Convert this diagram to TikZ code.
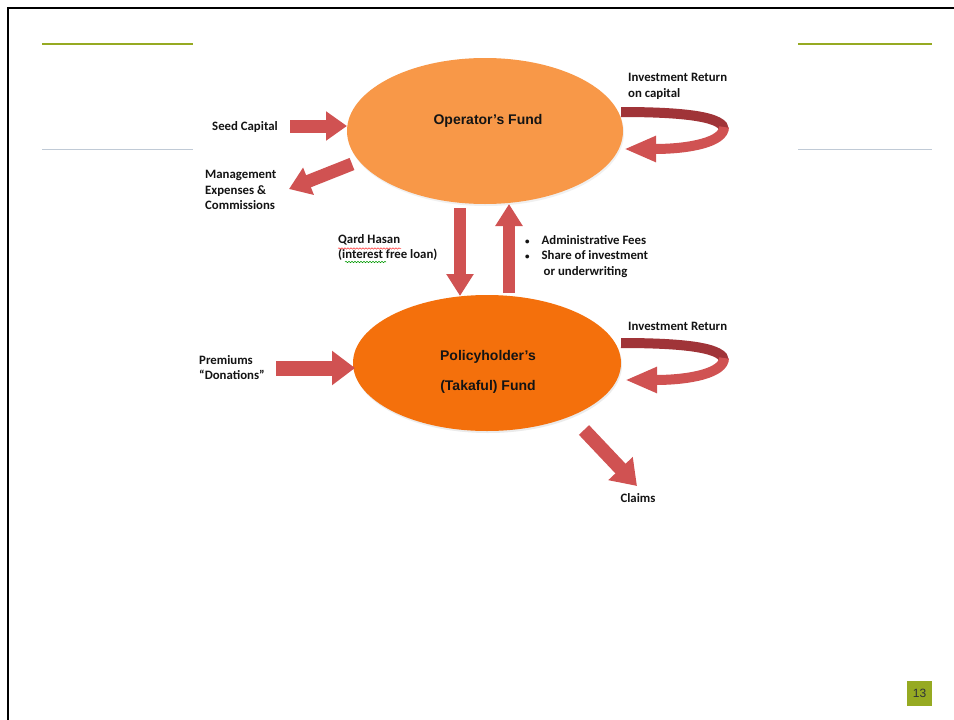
\documentclass[tikz,border=0pt]{standalone}
\usepackage{fontspec}
\setmainfont{Liberation Sans}
\newfontfamily\labfont[Ligatures=TeX]{Carlito}
\usetikzlibrary{arrows.meta,shapes.geometric,decorations.pathmorphing}
\definecolor{opfill}{RGB}{248,152,72}
\definecolor{phfill}{RGB}{244,112,12}
\definecolor{arr}{RGB}{208,82,82}
\definecolor{arrdark}{RGB}{160,52,56}
\definecolor{olive}{RGB}{150,170,34}
\definecolor{rulecol}{RGB}{192,202,214}
\definecolor{txt}{RGB}{20,20,20}
\begin{document}
\begin{tikzpicture}[x=1pt,y=-1pt,
  fund/.style={ellipse,draw=none,inner sep=0pt},
  fundtext/.style={font=\bfseries\fontsize{14}{16}\selectfont,text=txt,inner sep=0pt},
  lab/.style={font=\labfont\bfseries\fontsize{12.8}{15.5}\selectfont,text=txt,inner sep=0pt,align=left},
  fat/.style={draw=arr,line width=13pt,-{Triangle[length=21pt,width=28pt]}},
  fatv/.style={draw=arr,line width=12pt,-{Triangle[length=22pt,width=26pt]}},
  loopdark/.style={draw=arrdark,line width=10pt},
  looplight/.style={draw=arr,line width=10pt,-{Triangle[length=32pt,width=24pt]}},
  squig/.style={decorate,decoration={snake,amplitude=0.7pt,segment length=3pt},line width=0.5pt}
]
\useasboundingbox (0,0) rectangle (954,720);
\fill[white] (0,0) rectangle (954,720);
% slide frame
\draw[line width=2.5pt] (8,730) -- (8,8) -- (970,8);
% rules
\draw[olive,line width=2.5pt] (42,44) -- (193,44);
\draw[olive,line width=2.5pt] (798,44) -- (932,44);
\draw[rulecol,line width=1pt] (42,149) -- (193,149);
\draw[rulecol,line width=1pt] (798,149) -- (932,149);

% shadows
\fill[black!6] (486,133) ellipse [x radius=138pt,y radius=73pt];
\fill[black!8] (488,365) ellipse [x radius=134pt,y radius=68pt];
% funds
\node[fund,fill=opfill,minimum width=276pt,minimum height=146pt] (op) at (485,131) {};
\node[fundtext] (optext) at (488,121) {Operator's Fund};
\node[fund,fill=phfill,minimum width=268pt,minimum height=136pt] (ph) at (487,363) {};
\node[fundtext] (phtext1) at (488,357) {Policyholder's};
\node[fundtext] (phtext2) at (488,387) {(Takaful) Fund};

% labels
\node[lab,anchor=west] (seed) at (212,127) {Seed Capital};
\node[lab,anchor=north west] (mgmt) at (205,170) {Management\\Expenses \&\\Commissions};
\node[lab,anchor=north west] (qard) at (338,234) {Qard Hasan\\(interest free loan)};
\node[lab,anchor=north west] (fees) at (525,235) {{\fontsize{9}{10}\selectfont\textbullet}\hspace{12pt}Administrative Fees\\{\fontsize{9}{10}\selectfont\textbullet}\hspace{12pt}Share of investment\\\hspace*{18.5pt}or underwriting};
\node[lab,anchor=north west] (invop) at (628,73) {Investment Return\\on capital};
\node[lab,anchor=west] (invph) at (628,326) {Investment Return};
\node[lab,anchor=north west] (prem) at (199,355) {Premiums\\“Donations”};
\node[lab,anchor=center] (claims) at (638,498) {Claims};
\node[fill=olive,minimum width=25pt,minimum height=25pt,inner sep=0pt,text={rgb,255:red,45;green,50;blue,58},font=\fontsize{12}{14}\selectfont] (page) at (919.5,693) {13};

% spell-check squiggles
\draw[red!80,squig] (338,248.5) -- (401,248.5);
\draw[green!60!black,squig] (345,262) -- (386,262);

% arrow endpoints
\coordinate (seedA) at (290,126);
\coordinate (seedB) at (347,126);
\coordinate (mgA) at (352,164);
\coordinate (mgB) at (289,189);
\coordinate (dnA) at (460,208);
\coordinate (dnB) at (460,296);
\coordinate (upA) at (509,293);
\coordinate (upB) at (509,204);
\coordinate (prA) at (276,368);
\coordinate (prB) at (355,368);
\coordinate (clA) at (584,430);
\coordinate (clB) at (637,486);

\draw[fat] (seedA) -- (seedB);
\draw[fat] (mgA) -- (mgB);
\draw[fatv] (dnA) -- (dnB);
\draw[fatv] (upA) -- (upB);
\draw[draw=arr,line width=15pt,-{Triangle[length=23pt,width=33pt]}] (prA) -- (prB);
\draw[draw=arr,line width=14pt,-{Triangle[length=24pt,width=32pt]}] (clA) -- (clB);

% loop arrows
\coordinate (l1A) at (621,112);
\coordinate (l1M) at (724,130);
\coordinate (l1B) at (624,149);
\draw[loopdark] (l1A) .. controls (692,112) and (724,118) .. (l1M);
\draw[looplight] (724,127) .. controls (724,142) and (690,149) .. (l1B);
\coordinate (l2A) at (621,343);
\coordinate (l2M) at (724,361);
\coordinate (l2B) at (625,380);
\draw[loopdark] (l2A) .. controls (692,343) and (724,349) .. (l2M);
\draw[looplight] (724,358) .. controls (724,373) and (690,380) .. (l2B);
\end{tikzpicture}
\end{document}
